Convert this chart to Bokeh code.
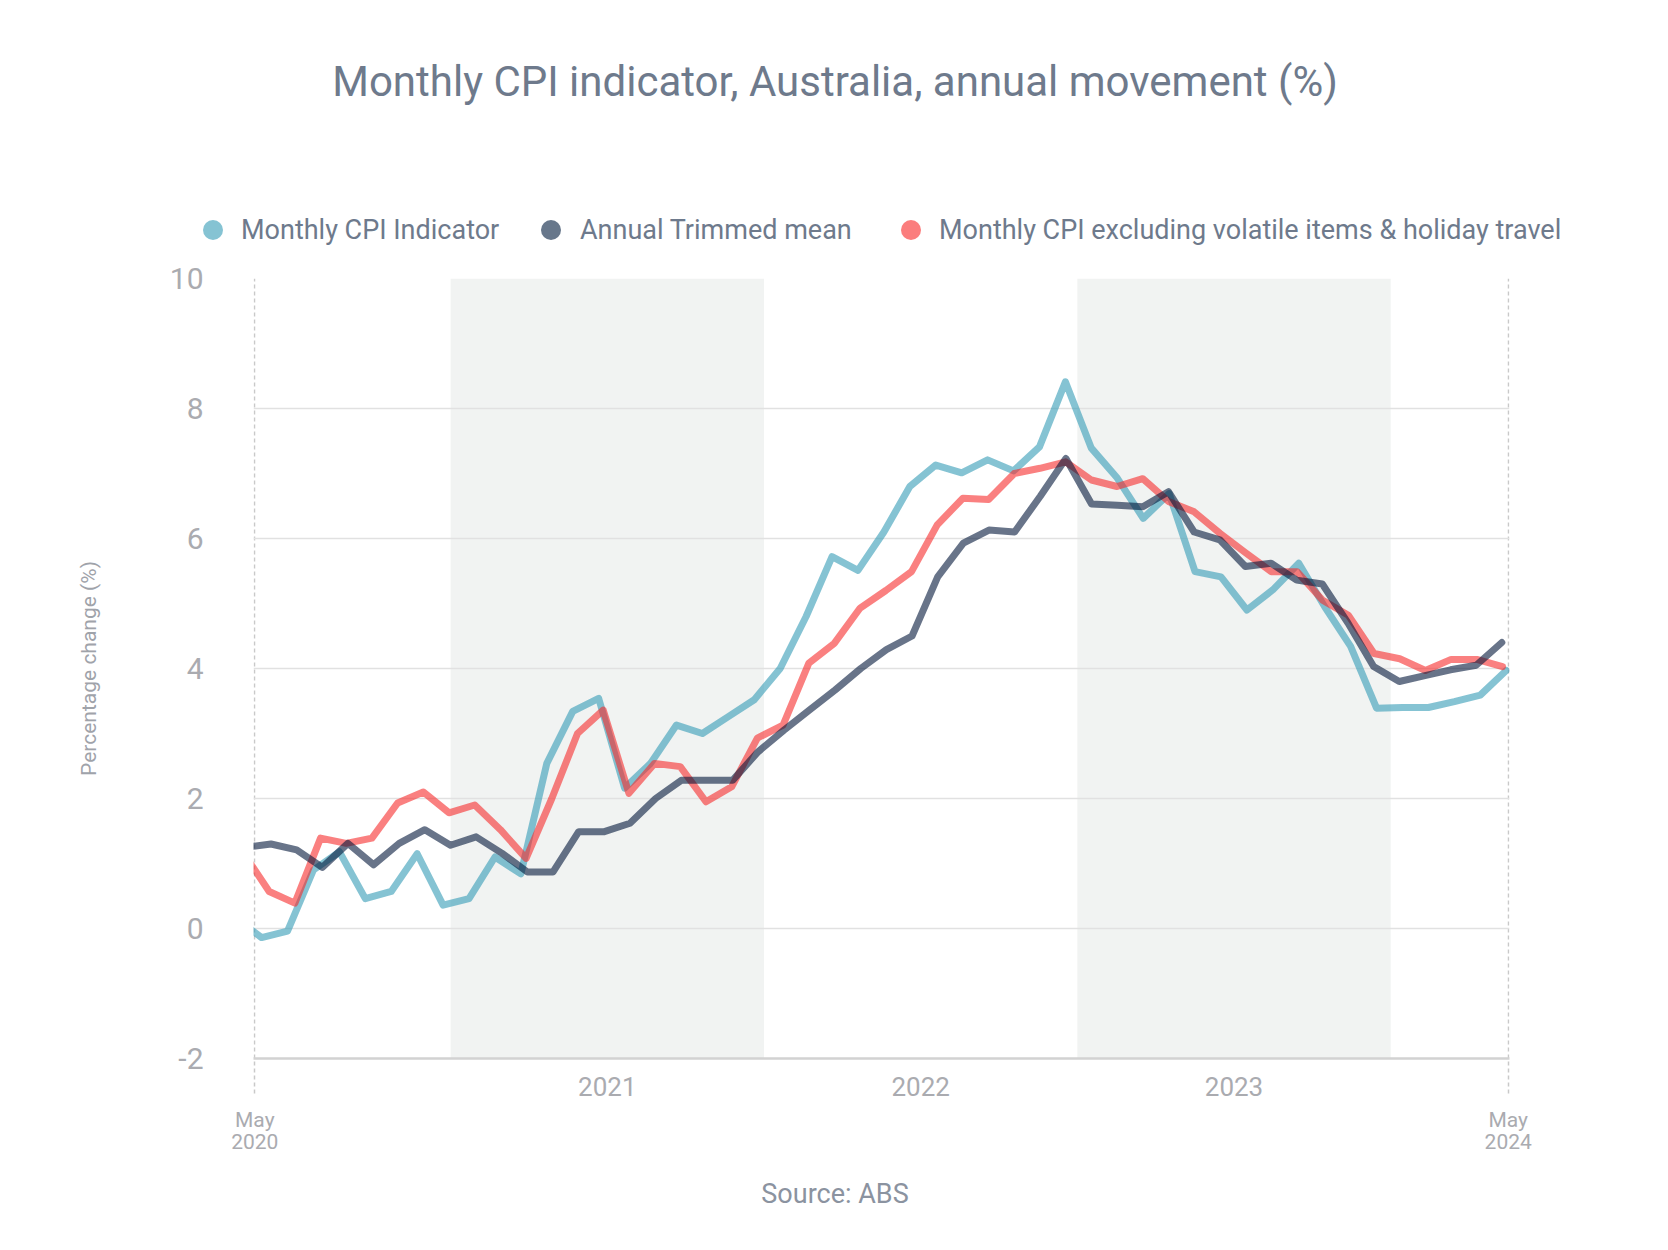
import html
from bokeh.plotting import figure
from bokeh.layouts import column
from bokeh.models import Range1d, FixedTicker, LinearAxis, Div
from bokeh.embed import file_html
from bokeh.resources import INLINE

# ---------------- data ----------------
# month index: 0 = May 2020 ... 48 = May 2024 ; -1 = Apr 2020 (clipped at the axis start)
month_index = list(range(-1, 49))

cpi_indicator = [0.16, -0.14, -0.04, 0.9, 1.18, 0.46, 0.57, 1.15, 0.36, 0.46,
                 1.1, 0.84, 2.54, 3.34, 3.54, 2.16, 2.54, 3.13, 3.0, 3.26,
                 3.52, 4.0, 4.8, 5.72, 5.51, 6.1, 6.8, 7.13, 7.01, 7.21,
                 7.04, 7.41, 8.41, 7.39, 6.93, 6.31, 6.69, 5.49, 5.41, 4.9,
                 5.21, 5.62, 4.95, 4.34, 3.39, 3.40, 3.40, 3.49, 3.59, 3.97]

trimmed_mean = [1.25, 1.3, 1.21, 0.94, 1.31, 0.98, 1.31, 1.52, 1.28, 1.41,
                1.16, 0.87, 0.87, 1.49, 1.49, 1.62, 2.0, 2.28, 2.28, 2.28,
                2.72, 3.05, 3.36, 3.67, 4.0, 4.29, 4.5, 5.41, 5.93, 6.13,
                6.1, 6.65, 7.23, 6.53, 6.51, 6.49, 6.72, 6.1, 5.98, 5.57,
                5.62, 5.36, 5.3, 4.7, 4.03, 3.8, 3.89, 3.98, 4.05, 4.4]

cpi_ex_volatile = [1.16, 0.57, 0.39, 1.39, 1.31, 1.39, 1.93, 2.1, 1.78, 1.9,
                   1.52, 1.08, 2.0, 3.0, 3.36, 2.08, 2.54, 2.49, 1.95, 2.18,
                   2.93, 3.13, 4.08, 4.39, 4.93, 5.2, 5.49, 6.21, 6.62, 6.6,
                   7.0, 7.08, 7.18, 6.9, 6.8, 6.92, 6.57, 6.41, 6.08, 5.78,
                   5.49, 5.49, 5.05, 4.82, 4.23, 4.15, 3.97, 4.14, 4.14, 4.03]

series_names = ["Monthly CPI Indicator", "Annual Trimmed mean",
                "Monthly CPI excluding volatile items & holiday travel"]

year_labels = ["2021", "2022", "2023"]
year_centers = [13.5, 25.5, 37.5]
band_starts = [7.5, 31.5]
band_ends = [19.5, 43.5]
y_ticks = [-2, 0, 2, 4, 6, 8, 10]
grid_ticks = [0, 2, 4, 6, 8, 10]
end_ticks = [0, 48]
end_labels = ["May\n2020", "May\n2024"]

title_text = "Monthly CPI indicator, Australia, annual movement (%)"
y_title = "Percentage change (%)"
source_text = "Source: ABS"

# ---------------- style ----------------
FONT = "Roboto"
W = 1652
TEXT_BLUE = "#6e7a8c"
TICK_GREY = "#aaabb0"
DASH_GREY = "#c9c9c9"

# date placement of each series' points along the month axis
place = {"cpi": (0.26, 0.993), "ex": (0.55, 0.984), "tm": (0.62, 0.982)}


def xs(key):
    off, step = place[key]
    return [off + step * k for k in month_index]


# ---------------- header (title + legend) ----------------
legend_dot_x = [213, 551, 911]
legend_text_x = [241, 580, 939]
legend_colors = ["#85c3d3", "#67778b", "#fb7d7d"]
parts = ['<div style="position:relative;width:%dpx;height:258px;font-family:Roboto,sans-serif;">' % W]
parts.append('<div style="position:absolute;left:835px;top:58px;transform:translateX(-50%%);'
             'white-space:nowrap;font-size:42px;line-height:48px;color:%s;">%s</div>'
             % (TEXT_BLUE, html.escape(title_text)))
for dx, tx, col, name in zip(legend_dot_x, legend_text_x, legend_colors, series_names):
    parts.append('<div style="position:absolute;left:%dpx;top:220px;width:20px;height:20px;'
                 'border-radius:50%%;background:%s;"></div>' % (dx - 10, col))
    parts.append('<div style="position:absolute;left:%dpx;top:214px;white-space:nowrap;'
                 'font-size:27px;line-height:32px;color:%s;">%s</div>'
                 % (tx, TEXT_BLUE, html.escape(name)))
parts.append('</div>')
hdr = Div(text="".join(parts), width=W, height=258, margin=(0, 0, 0, 0))

# ---------------- main chart ----------------
# tiny padding on the x range so the dashed end lines at 0 and 48 are fully drawn
p = figure(width=W, height=910, x_range=Range1d(-0.05, 48.05), y_range=Range1d(-2, 10),
           output_backend="svg", toolbar_location=None,
           min_border_left=253, min_border_right=143,
           min_border_top=20, min_border_bottom=110,
           outline_line_color=None)

# year shading
p.quad(left=band_starts, right=band_ends, bottom=-2, top=10,
       fill_color="#f1f3f2", line_color=None, level="image")

# grids
p.ygrid.ticker = FixedTicker(ticks=grid_ticks)
p.ygrid.grid_line_color = "#e1e1e1"
p.ygrid.grid_line_width = 1.5
p.xgrid.ticker = FixedTicker(ticks=end_ticks)
p.xgrid.grid_line_color = DASH_GREY
p.xgrid.grid_line_width = 1.5
p.xgrid.grid_line_dash = "4 3"

# series (drawn in this order so the dark line lies on top)
p.line(xs("cpi"), cpi_indicator, line_color="#349bb6", line_alpha=0.6,
       line_width=7, line_cap="round", line_join="round")
p.line(xs("ex"), cpi_ex_volatile, line_color="#f72b2b", line_alpha=0.6,
       line_width=7, line_cap="round", line_join="round")
p.line(xs("tm"), trimmed_mean, line_color="#04183a", line_alpha=0.6,
       line_width=7, line_cap="round", line_join="round")

# y axis
p.yaxis.ticker = FixedTicker(ticks=y_ticks)
p.yaxis.major_label_overrides = {-2: "-2"}
p.yaxis.axis_line_color = None
p.yaxis.major_tick_line_color = None
p.yaxis.minor_tick_line_color = None
p.yaxis.major_tick_out = 0
p.yaxis.major_tick_in = 0
p.yaxis.major_label_standoff = 50
p.yaxis.major_label_text_font = FONT
p.yaxis.major_label_text_font_size = "30px"
p.yaxis.major_label_text_color = TICK_GREY
p.yaxis.axis_label = y_title
p.yaxis.axis_label_standoff = 66
p.yaxis.axis_label_text_font = FONT
p.yaxis.axis_label_text_font_size = "21px"
p.yaxis.axis_label_text_font_style = "normal"
p.yaxis.axis_label_text_color = "#9fa3aa"

# x axis 1: baseline, year labels, dashed end ticks
xa = p.xaxis[0]
xa.ticker = FixedTicker(ticks=year_centers, minor_ticks=end_ticks)
xa.major_label_overrides = {c: l for c, l in zip(year_centers, year_labels)}
xa.axis_line_color = "#d2d2d2"
xa.axis_line_width = 2.5
xa.major_tick_line_color = None
xa.major_tick_out = 0
xa.major_tick_in = 0
xa.minor_tick_line_color = DASH_GREY
xa.minor_tick_line_width = 1.5
xa.minor_tick_line_dash = "4 3"
xa.minor_tick_out = 35
xa.minor_tick_in = 0
xa.major_label_standoff = -17
xa.major_label_text_font = FONT
xa.major_label_text_font_size = "26px"
xa.major_label_text_color = TICK_GREY

# x axis 2: May 2020 / May 2024
xb = LinearAxis(ticker=FixedTicker(ticks=end_ticks),
                major_label_overrides={t: l for t, l in zip(end_ticks, end_labels)})
xb.axis_line_color = None
xb.major_tick_line_color = None
xb.minor_tick_line_color = None
xb.major_tick_out = 0
xb.major_tick_in = 0
xb.major_label_standoff = 9
xb.major_label_text_font = FONT
xb.major_label_text_font_size = "21px"
xb.major_label_text_line_height = 0.95
xb.major_label_text_color = TICK_GREY
p.add_layout(xb, "below")

# ---------------- footer ----------------
ftr = Div(text='<div style="position:relative;width:%dpx;height:54px;font-family:Roboto,sans-serif;">'
               '<div style="position:absolute;left:835px;top:10px;transform:translateX(-50%%);'
               'white-space:nowrap;font-size:27px;line-height:32px;color:#8b93a0;">%s</div></div>'
               % (W, html.escape(source_text)),
          width=W, height=54, margin=(0, 0, 0, 0))

layout = column(hdr, p, ftr)
open("out.html", "w").write(file_html(layout, INLINE))
